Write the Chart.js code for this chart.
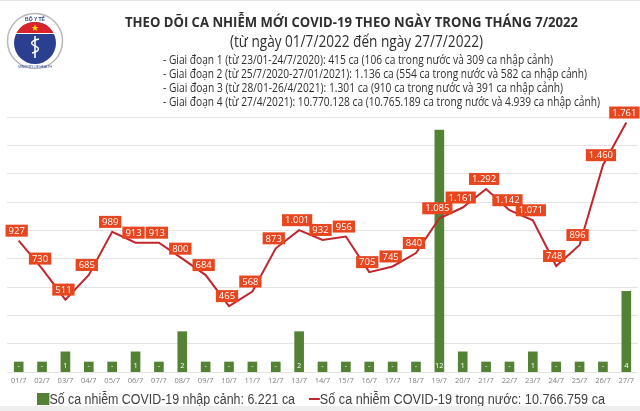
<!DOCTYPE html>
<html lang="vi">
<head>
<meta charset="utf-8">
<title>Ca nhiễm COVID-19 tháng 7/2022</title>
<script src="https://cdn.jsdelivr.net/npm/chart.js@4.4.1/dist/chart.umd.min.js"></script>
<style>
    html, body {
        margin: 0;
        padding: 0;
        background: #ffffff;
    }

    .page {
        position: relative;
        width: 640px;
        height: 411px;
        overflow: hidden;
        border-top: 1px solid #e6e6e6;
        border-bottom: 5px solid #eeeeee;
        box-sizing: border-box;
        font-family: "Open Sans", "Noto Sans", sans-serif;
        color: #333333;
    }

    #covidChart {
        position: absolute;
        left: 0;
        top: 0;
    }

    .logo {
        position: absolute;
        left: 6px;
        top: 11px;
    }

    .fit {
        position: absolute;
        white-space: nowrap;
        transform-origin: left center;
    }

    .title {
        font-weight: 700;
        font-size: 15px;
        color: #2f2f2f;
    }

    .subtitle {
        font-size: 16px;
        color: #2f2f2f;
    }

    .note {
        font-size: 12px;
        color: #2f2f2f;
    }

    .legend-item {
        position: absolute;
        top: 390px;
        font-family: "Liberation Sans", Arial, sans-serif;
        font-size: 14px;
        color: #404040;
        white-space: nowrap;
        transform-origin: left center;
    }

    .legend-bar {
        display: inline-block;
        width: 14px;
        height: 12px;
        background: #548235;
        vertical-align: -1px;
    }

    .legend-line {
        display: inline-block;
        width: 12px;
        height: 2px;
        background: #c0262d;
        vertical-align: 4px;
    }
</style>
</head>
<body>
<div class="page">
    <canvas id="covidChart" width="640" height="411"></canvas>

    <svg class="logo" width="58" height="58" viewBox="0 0 58 58">
        <circle cx="29" cy="29" r="27.5" fill="#ffffff" stroke="#b8b8b8" stroke-width="1.5"/>
        <circle cx="29" cy="31" r="21" fill="#2a3f8f"/>
        <path d="M 10.5 21 A 21 21 0 0 1 47.5 21 Z" fill="#d8232a"/>
        <line x1="10" y1="21.5" x2="48" y2="21.5" stroke="#ffffff" stroke-width="1.2"/>
        <polygon points="29,12.5 30,15 32.5,15 30.5,16.5 31.3,19 29,17.5 26.7,19 27.5,16.5 25.5,15 28,15" fill="#ffd200"/>
        <line x1="29" y1="24" x2="29" y2="46" stroke="#ffffff" stroke-width="1.6"/>
        <path d="M 33 27 C 24 29, 24 32, 29 34 C 34 36, 34 39, 26 41" fill="none" stroke="#ffffff" stroke-width="1.4"/>
        <text x="29" y="9" font-size="5" font-family="Liberation Sans, sans-serif" fill="#2a3f8f" text-anchor="middle" font-weight="700">BỘ Y TẾ</text>
        <text x="29" y="55.5" font-size="3.2" font-family="Liberation Sans, sans-serif" fill="#2a3f8f" text-anchor="middle">MINISTRY OF HEALTH</text>
    </svg>

    <div class="fit title" data-left="125" data-top="20" data-width="453">THEO DÕI CA NHIỄM MỚI COVID-19 THEO NGÀY TRONG THÁNG 7/2022</div>
    <div class="fit subtitle" data-left="230" data-top="40" data-width="253">(từ ngày 01/7/2022 đến ngày 27/7/2022)</div>
    <div class="fit note" data-left="163" data-top="58" data-width="390">- Giai đoạn 1 (từ 23/01-24/7/2020): 415 ca (106 ca trong nước và 309 ca nhập cảnh)</div>
    <div class="fit note" data-left="163" data-top="72" data-width="424">- Giai đoạn 2 (từ 25/7/2020-27/01/2021): 1.136 ca (554 ca trong nước và 582 ca nhập cảnh)</div>
    <div class="fit note" data-left="163" data-top="86" data-width="400">- Giai đoạn 3 (từ 28/01-26/4/2021): 1.301 ca (910 ca trong nước và 391 ca nhập cảnh)</div>
    <div class="fit note" data-left="163" data-top="100" data-width="437">- Giai đoạn 4 (từ 27/4/2021): 10.770.128 ca (10.765.189 ca trong nước và 4.939 ca nhập cảnh)</div>

    <div class="legend-item" id="legendImport" style="left: 37px;"><span class="legend-bar"></span>Số ca nhiễm COVID-19 nhập cảnh: 6.221 ca</div>
    <div class="legend-item" id="legendLocal" style="left: 309px;"><span class="legend-line"></span>Số ca nhiễm COVID-19 trong nước: 10.766.759 ca</div>
</div>

<script>
// du lieu thang 7/2022
const dayLabels = [
    '01/7', '02/7', '03/7', '04/7', '05/7', '06/7', '07/7', '08/7', '09/7',
    '10/7', '11/7', '12/7', '13/7', '14/7', '15/7', '16/7', '17/7', '18/7',
    '19/7', '20/7', '21/7', '22/7', '23/7', '24/7', '25/7', '26/7', '27/7'
];

const localCases = [
    927, 730, 511, 685, 989, 913, 913, 800, 684,
    465, 568, 873, 1001, 932, 956, 705, 745, 840,
    1085, 1161, 1292, 1142, 1071, 748, 896, 1460, 1761
];

const importedCases = [
    0, 0, 1, 0, 0, 1, 0, 2, 0,
    0, 0, 0, 2, 0, 0, 0, 0, 0,
    12, 1, 0, 0, 1, 0, 0, 0, 4
];

const localTicks = [0, 200, 400, 600, 800, 1000, 1200, 1400, 1600, 1800];

const importedAxisMax = 12.65;

let covidChart;

function formatVN(value) {
    return value.toLocaleString('de-DE');
}

function fitHeaderTexts() {
    document.querySelectorAll('[data-width]').forEach(function (el) {
        const target = Number(el.dataset.width);
        const natural = el.getBoundingClientRect().width;
        el.style.left = el.dataset.left + 'px';
        el.style.top = (Number(el.dataset.top) - el.offsetHeight / 2) + 'px';
        el.style.transform = 'scaleX(' + (target / natural) + ')';
    });
}

function fitLegend(id, width) {
    const el = document.getElementById(id);
    const natural = el.getBoundingClientRect().width;
    el.style.transform = 'scaleX(' + (width / natural) + ')';
}

const valueLabelPlugin = {
    id: 'valueLabels',
    afterDatasetsDraw(chart) {
        const ctx = chart.ctx;
        const lineMeta = chart.getDatasetMeta(0);
        const barMeta = chart.getDatasetMeta(1);
        const baseY = chart.scales.y1.getPixelForValue(0);

        ctx.save();
        ctx.textAlign = 'center';
        ctx.textBaseline = 'middle';

        // nhan cot nhap canh
        ctx.font = '7.5px "Open Sans", sans-serif';
        ctx.fillStyle = '#ffffff';
        barMeta.data.forEach(function (bar, i) {
            const v = importedCases[i];
            ctx.fillText(v === 0 ? '-' : String(v), bar.x, baseY - 6);
        });

        // nhan duong trong nuoc
        ctx.font = '9.5px "Open Sans", sans-serif';
        lineMeta.data.forEach(function (point, i) {
            const text = formatVN(localCases[i]);
            const w = ctx.measureText(text).width + 6;
            const h = 12;
            const cx = point.x - 2;
            const cy = point.y - 10;
            ctx.fillStyle = '#e8461f';
            ctx.fillRect(cx - w / 2, cy - h / 2, w, h);
            ctx.fillStyle = '#ffffff';
            ctx.fillText(text, cx, cy + 0.5);
        });

        ctx.restore();
    }
};

function initCovidChart() {
    const canvas = document.getElementById('covidChart');

    if (!canvas) {
        return;
    }

    const ctx = canvas.getContext('2d');

    covidChart = new Chart(ctx, {
        type: 'bar',
        data: {
            labels: dayLabels,
            datasets: [{
                type: 'line',
                label: 'Số ca nhiễm COVID-19 trong nước',
                data: localCases,
                yAxisID: 'y',
                borderColor: '#c0262d',
                borderWidth: 2,
                pointRadius: 0,
                tension: 0,
                order: 0
            }, {
                type: 'bar',
                label: 'Số ca nhiễm COVID-19 nhập cảnh',
                data: importedCases,
                yAxisID: 'y1',
                backgroundColor: '#548235',
                barThickness: 9,
                minBarLength: 10,
                order: 1
            }]
        },
        options: {
            responsive: false,
            animation: false,
            layout: {
                padding: {
                    top: 116,
                    left: 7,
                    right: 2,
                    bottom: 23
                }
            },
            plugins: {
                legend: {
                    display: false
                },
                tooltip: {
                    enabled: false
                }
            },
            scales: {
                x: {
                    offset: true,
                    grid: {
                        display: false,
                        drawTicks: false
                    },
                    border: {
                        display: false
                    },
                    ticks: {
                        color: '#7f7f7f',
                        autoSkip: false,
                        maxRotation: 0,
                        padding: 4,
                        font: {
                            size: 7.5,
                            family: '"Open Sans", sans-serif'
                        }
                    }
                },
                y: {
                    position: 'left',
                    min: localTicks[0],
                    max: localTicks[localTicks.length - 1],
                    afterBuildTicks(axis) {
                        axis.ticks = localTicks.map(function (v) {
                            return { value: v };
                        });
                    },
                    grid: {
                        color: '#e3e3e3',
                        drawTicks: false
                    },
                    border: {
                        display: false
                    },
                    ticks: {
                        display: false
                    }
                },
                y1: {
                    display: false,
                    min: 0,
                    max: importedAxisMax
                }
            }
        },
        plugins: [valueLabelPlugin]
    });
}

fitHeaderTexts();
fitLegend('legendImport', 258);
fitLegend('legendLocal', 296);
initCovidChart();
</script>
</body>
</html>
